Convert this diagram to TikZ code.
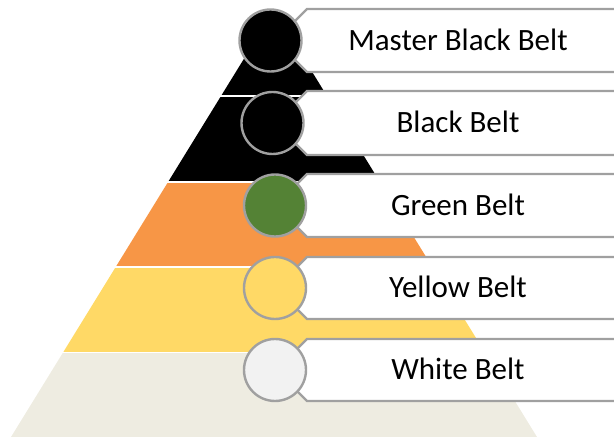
\documentclass[tikz,border=0pt]{standalone}
\usepackage{fontspec}
\setmainfont{Carlito}
\definecolor{pblack}{HTML}{000000}
\definecolor{porange}{HTML}{F79646}
\definecolor{pyellow}{HTML}{FFD966}
\definecolor{pbeige}{HTML}{EEECE1}
\definecolor{cgreen}{HTML}{548235}
\definecolor{cwhite}{HTML}{F2F2F2}
\definecolor{edgegray}{HTML}{A0A0A0}
\tikzset{
  beltcircle/.style={circle, draw=edgegray, line width=2.4pt, minimum size=62pt, inner sep=0pt},
  labelbox/.style={draw=edgegray, fill=white, line width=2.4pt},
  belttext/.style={anchor=base, inner sep=0pt, font=\fontsize{31}{37}\selectfont}
}
\begin{document}
\begin{tikzpicture}[x=1pt,y=-1pt]
\useasboundingbox (0,0) rectangle (614,438);
\clip (0,0) rectangle (614,438);
\coordinate (apex) at (274,10);
\coordinate (bl) at (11,437);
\coordinate (br) at (537,437);
% pyramid layers
\foreach \ya/\yb/\col in {0/95/pblack, 98/181/pblack, 184/266/porange, 269/352/pyellow, 354/437/pbeige}{
  \begin{scope}
    \clip (0,\ya) rectangle (614,\yb);
    \fill[\col] (apex) -- (bl) -- (br) -- cycle;
  \end{scope}
}
% label boxes
\foreach \t/\b in {9/72, 91/155, 174/237, 257/319, 339/401}{
  \draw[labelbox] (307,\t) -- (630,\t) -- (630,\b) -- (307,\b) -- (291,\b-16) -- (291,\t+16) -- cycle;
}
% circles
\node[beltcircle, fill=black]   (c1) at (270.5,40.5) {};
\node[beltcircle, fill=black]   (c2) at (272.5,123) {};
\node[beltcircle, fill=cgreen]  (c3) at (275,205.5) {};
\node[beltcircle, fill=pyellow] (c4) at (275,288) {};
\node[beltcircle, fill=cwhite]  (c5) at (275,370) {};
% labels
\node[belttext] (t1) at (458,50.5) {Master Black Belt};
\node[belttext] (t2) at (458,133) {Black Belt};
\node[belttext] (t3) at (458,215.5) {Green Belt};
\node[belttext] (t4) at (458,298) {Yellow Belt};
\node[belttext] (t5) at (458,380) {White Belt};
\end{tikzpicture}
\end{document}
